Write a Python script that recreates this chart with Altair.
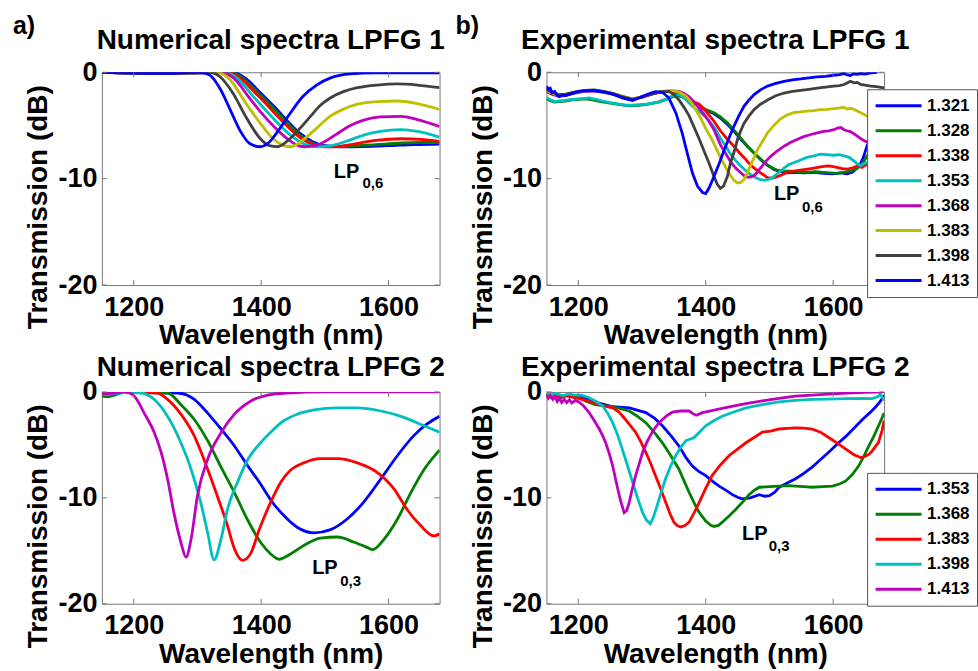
import altair as alt
import pandas as pd

FONT = "Liberation Sans"
FRAME = "#777777"

# Shared axis ranges and tick positions
X_DOMAIN = [1150, 1680]
Y_DOMAIN = [-20, 0]
X_TICKS = [1200, 1400, 1600]
Y_TICKS = [0, -10, -20]

# Surrounding refractive indices and their line colours
RI_LPFG1 = ["1.321", "1.328", "1.338", "1.353", "1.368", "1.383", "1.398", "1.413"]
COLORS_LPFG1 = ["#0000ff", "#007f00", "#ff0000", "#00bfbf", "#bf00bf", "#bfbf00", "#404040", "#0000ff"]
RI_LPFG2 = ["1.353", "1.368", "1.383", "1.398", "1.413"]
COLORS_LPFG2 = ["#0000ff", "#007f00", "#ff0000", "#00bfbf", "#bf00bf"]

# ---- Numerical spectra, LPFG 1 : (wavelength nm, transmission dB) ----
num1_1321 = [(1150, 0), (1250, -0.1), (1356, 0), (1376, -0.6), (1400, -2.0), (1420, -3.2), (1440, -4.5),
             (1460, -5.7), (1480, -6.5), (1500, -6.9), (1525, -7.0), (1560, -6.98), (1600, -6.9),
             (1640, -6.8), (1680, -6.75)]
num1_1328 = [(1150, 0), (1250, -0.1), (1352, 0), (1372, -0.6), (1395, -1.9), (1415, -3.1), (1435, -4.4),
             (1455, -5.6), (1475, -6.5), (1495, -6.9), (1517, -7.0), (1540, -6.95), (1580, -6.8),
             (1620, -6.65), (1650, -6.6), (1680, -6.6)]
num1_1338 = [(1150, 0), (1250, -0.1), (1348, 0), (1368, -0.6), (1390, -1.9), (1405, -2.8), (1425, -4.1),
             (1445, -5.3), (1465, -6.3), (1482, -6.8), (1498, -7.0), (1512, -7.0), (1530, -6.9),
             (1550, -6.7), (1580, -6.4), (1620, -6.25), (1650, -6.3), (1680, -6.5)]
num1_1353 = [(1150, 0), (1250, -0.1), (1343, 0), (1363, -0.6), (1385, -2.1), (1400, -3.1), (1420, -4.4),
             (1440, -5.6), (1460, -6.5), (1475, -6.9), (1488, -7.0), (1505, -6.95), (1520, -6.75),
             (1540, -6.35), (1561, -5.9), (1587, -5.55), (1619, -5.4), (1645, -5.55), (1680, -6.1)]
num1_1368 = [(1150, 0), (1250, -0.1), (1338, 0), (1358, -0.6), (1380, -2.3), (1400, -3.8), (1420, -5.1),
             (1440, -6.2), (1455, -6.8), (1468, -7.0), (1485, -6.9), (1500, -6.5), (1520, -5.75),
             (1540, -5.0), (1561, -4.5), (1587, -4.2), (1619, -4.15), (1645, -4.45), (1680, -5.1)]
num1_1383 = [(1150, 0), (1250, -0.1), (1330, 0), (1348, -0.5), (1378, -3.1), (1400, -4.9), (1418, -6.2),
             (1432, -6.8), (1446, -7.0), (1467, -6.3), (1488, -5.2), (1509, -4.1), (1530, -3.45),
             (1551, -3.0), (1582, -2.75), (1614, -2.7), (1645, -2.95), (1680, -3.5)]
num1_1398 = [(1150, 0), (1250, -0.1), (1320, 0), (1335, -0.4), (1355, -1.9), (1378, -4.4), (1398, -6.2),
             (1413, -6.9), (1426, -7.0), (1446, -6.2), (1462, -5.2), (1478, -4.1), (1493, -3.1),
             (1509, -2.4), (1530, -1.8), (1551, -1.45), (1582, -1.2), (1614, -1.1), (1645, -1.2),
             (1680, -1.45)]
num1_1413 = [(1150, 0), (1250, -0.1), (1305, 0), (1320, -0.3), (1336, -1.6), (1352, -3.6), (1368, -5.6),
             (1382, -6.7), (1398, -7.0), (1412, -6.6), (1428, -5.4), (1445, -3.9), (1465, -2.3),
             (1487, -1.2), (1510, -0.5), (1540, -0.15), (1580, -0.05), (1680, -0.05)]

# ---- Experimental spectra, LPFG 1 ----
exp1_1321 = [(1150, -1.5), (1160, -1.9), (1170, -2.2), (1180, -2.15), (1195, -1.9), (1210, -1.75),
             (1225, -1.72), (1240, -1.85), (1255, -2.05), (1270, -2.35), (1285, -2.6), (1300, -2.3),
             (1315, -2.0), (1330, -1.85), (1345, -1.8), (1358, -2.0), (1370, -2.4), (1382, -2.9),
             (1392, -3.3), (1402, -3.6), (1413, -3.9), (1423, -4.3), (1434, -4.9), (1445, -5.6),
             (1455, -6.3), (1466, -7.0), (1476, -7.6), (1486, -8.2), (1497, -8.75), (1508, -9.15),
             (1518, -9.35), (1528, -9.45), (1540, -9.4), (1555, -9.45), (1570, -9.4), (1585, -9.5),
             (1600, -9.55), (1612, -9.45), (1622, -9.55), (1630, -9.4), (1638, -9.0), (1643, -8.6),
             (1648, -7.9), (1653, -6.95), (1660, -6.0)]
exp1_1328 = [(1150, -2.5), (1157, -2.7), (1163, -2.8), (1170, -2.75), (1180, -2.7), (1190, -2.6),
             (1201, -2.55), (1212, -2.5), (1222, -2.6), (1235, -2.75), (1250, -2.9), (1265, -3.05),
             (1280, -3.15), (1295, -3.1), (1310, -3.0), (1325, -2.8), (1340, -2.5), (1352, -2.2),
             (1362, -2.3), (1374, -2.6), (1384, -2.95), (1392, -3.3), (1402, -3.55), (1413, -3.8),
             (1423, -4.2), (1434, -4.75), (1445, -5.5), (1455, -6.2), (1465, -6.9), (1476, -7.6),
             (1486, -8.15), (1497, -8.7), (1505, -9.0), (1512, -9.2), (1522, -9.28), (1533, -9.3),
             (1546, -9.35), (1559, -9.4), (1572, -9.35), (1585, -9.4), (1596, -9.45), (1606, -9.5),
             (1616, -9.4), (1627, -9.3), (1635, -9.1), (1643, -8.8), (1648, -8.4), (1653, -7.9),
             (1660, -7.2)]
exp1_1338 = [(1150, -1.7), (1160, -2.0), (1170, -2.15), (1180, -2.1), (1195, -1.9), (1210, -1.75),
             (1225, -1.7), (1240, -1.85), (1255, -2.0), (1270, -2.3), (1285, -2.55), (1300, -2.3),
             (1315, -2.05), (1330, -1.85), (1345, -1.8), (1358, -1.95), (1366, -2.2), (1374, -2.55),
             (1382, -2.8), (1390, -3.0), (1398, -3.5), (1405, -4.0), (1413, -4.6), (1423, -5.5),
             (1434, -6.3), (1445, -7.0), (1455, -7.7), (1463, -8.2), (1470, -8.7), (1478, -9.1),
             (1486, -9.45), (1492, -9.7), (1497, -9.9), (1504, -9.95), (1510, -9.86), (1519, -9.65),
             (1528, -9.4), (1538, -9.3), (1549, -9.2), (1560, -9.1), (1570, -9.0), (1580, -8.9),
             (1591, -8.8), (1598, -8.85), (1606, -8.95), (1614, -9.05), (1622, -9.1), (1630, -9.0),
             (1638, -8.8), (1645, -8.95), (1651, -8.7), (1660, -8.8)]
exp1_1353 = [(1150, -2.4), (1157, -2.6), (1163, -2.75), (1170, -2.7), (1180, -2.65), (1190, -2.55),
             (1201, -2.5), (1210, -2.45), (1217, -2.4), (1228, -2.55), (1238, -2.7), (1250, -2.85),
             (1264, -3.0), (1275, -3.1), (1285, -3.1), (1296, -3.05), (1306, -3.0), (1317, -2.9),
             (1327, -2.8), (1337, -2.55), (1348, -2.2), (1358, -2.1), (1366, -2.4), (1374, -2.9),
             (1383, -3.4), (1392, -3.8), (1400, -4.2), (1408, -4.75), (1416, -5.4), (1423, -6.2),
             (1431, -6.9), (1439, -7.7), (1447, -8.3), (1455, -8.8), (1462, -9.2), (1470, -9.6),
             (1478, -9.9), (1486, -10.1), (1492, -10.15), (1497, -10.1), (1502, -10.0), (1507, -9.8),
             (1515, -9.4), (1523, -9.0), (1530, -8.7), (1538, -8.5), (1549, -8.25), (1559, -8.0),
             (1570, -7.85), (1580, -7.7), (1590, -7.75), (1601, -7.8), (1610, -7.75), (1617, -7.85),
             (1625, -8.0), (1633, -8.35), (1638, -8.6), (1643, -8.8), (1648, -8.6), (1653, -8.5),
             (1660, -8.6)]
exp1_1368 = [(1150, -1.8), (1160, -2.1), (1170, -2.25), (1180, -2.2), (1195, -1.95), (1210, -1.8),
             (1225, -1.75), (1240, -1.9), (1255, -2.05), (1270, -2.3), (1285, -2.5), (1300, -2.35),
             (1315, -2.05), (1330, -1.85), (1345, -1.75), (1358, -1.8), (1366, -2.0), (1374, -2.3),
             (1382, -2.8), (1390, -3.4), (1398, -4.0), (1405, -4.6), (1413, -5.4), (1423, -6.8),
             (1431, -7.6), (1439, -8.4), (1447, -9.0), (1455, -9.45), (1460, -9.7), (1465, -9.85),
             (1470, -9.85), (1476, -9.7), (1481, -9.4), (1486, -9.0), (1494, -8.4), (1502, -7.9),
             (1512, -7.4), (1523, -6.95), (1533, -6.6), (1544, -6.3), (1554, -6.05), (1565, -5.85),
             (1575, -5.7), (1585, -5.55), (1593, -5.5), (1601, -5.4), (1607, -5.25), (1612, -5.2),
             (1617, -5.4), (1622, -5.5), (1628, -5.6), (1638, -6.0), (1645, -6.3), (1651, -6.5),
             (1660, -6.6)]
exp1_1383 = [(1150, -1.7), (1160, -2.0), (1170, -2.2), (1180, -2.1), (1195, -1.9), (1210, -1.75),
             (1225, -1.7), (1240, -1.85), (1255, -2.0), (1270, -2.3), (1285, -2.5), (1300, -2.3),
             (1315, -2.0), (1330, -1.8), (1345, -1.7), (1358, -1.85), (1369, -2.25), (1377, -2.8),
             (1384, -3.5), (1392, -4.3), (1400, -5.3), (1408, -6.1), (1416, -7.1), (1423, -8.0),
             (1431, -8.9), (1439, -9.7), (1445, -10.2), (1450, -10.4), (1455, -10.35), (1460, -10.1),
             (1465, -9.5), (1470, -8.8), (1476, -8.0), (1481, -7.3), (1489, -6.5), (1497, -5.7),
             (1507, -5.0), (1517, -4.4), (1528, -4.0), (1538, -3.8), (1549, -3.72), (1559, -3.66),
             (1570, -3.6), (1580, -3.52), (1591, -3.48), (1601, -3.42), (1610, -3.35), (1617, -3.28),
             (1622, -3.45), (1628, -3.4), (1633, -3.5), (1640, -3.7), (1648, -3.95), (1653, -4.1),
             (1660, -4.2)]
exp1_1398 = [(1150, -1.6), (1160, -1.9), (1170, -2.1), (1180, -2.05), (1195, -1.85), (1210, -1.7),
             (1225, -1.65), (1240, -1.8), (1255, -2.0), (1270, -2.3), (1285, -2.55), (1300, -2.35),
             (1315, -2.05), (1328, -1.85), (1342, -1.8), (1350, -2.1), (1358, -2.6), (1366, -3.3),
             (1374, -4.1), (1382, -5.2), (1390, -6.3), (1398, -7.5), (1405, -8.5), (1413, -9.8),
             (1418, -10.5), (1423, -10.9), (1428, -10.7), (1434, -9.8), (1439, -8.5), (1445, -7.4),
             (1450, -6.3), (1455, -5.5), (1460, -4.8), (1468, -4.1), (1476, -3.5), (1486, -3.0),
             (1497, -2.6), (1510, -2.2), (1523, -1.95), (1536, -1.8), (1549, -1.7), (1562, -1.6),
             (1575, -1.5), (1588, -1.4), (1601, -1.3), (1610, -1.25), (1617, -1.15), (1622, -1.0),
             (1627, -0.85), (1633, -1.0), (1638, -0.95), (1643, -1.15), (1650, -1.2), (1659, -1.3),
             (1668, -1.35), (1677, -1.45), (1680, -1.45)]
exp1_1413 = [(1150, -1.3), (1153, -1.6), (1156, -1.5), (1159, -1.95), (1163, -1.8), (1167, -2.2),
             (1170, -2.3), (1175, -2.15), (1180, -2.2), (1190, -2.0), (1201, -1.8), (1212, -1.75),
             (1222, -1.7), (1232, -1.8), (1243, -1.9), (1256, -2.1), (1269, -2.4), (1285, -2.65),
             (1301, -2.25), (1312, -2.0), (1321, -1.82), (1332, -1.88), (1342, -2.4), (1353, -3.8),
             (1363, -5.7), (1371, -7.6), (1379, -9.45), (1387, -10.7), (1395, -11.3), (1400, -11.4),
             (1405, -10.9), (1413, -9.8), (1421, -8.6), (1429, -7.3), (1437, -6.1), (1444, -5.1),
             (1452, -4.1), (1460, -3.2), (1468, -2.6), (1476, -2.1), (1486, -1.65), (1497, -1.3),
             (1510, -1.05), (1523, -0.85), (1536, -0.72), (1549, -0.63), (1562, -0.52), (1575, -0.44),
             (1588, -0.38), (1601, -0.28), (1610, -0.22), (1617, -0.12), (1622, -0.25), (1627, -0.3),
             (1632, -0.15), (1638, -0.2), (1643, -0.12), (1650, -0.18), (1657, -0.08), (1664, -0.03),
             (1669, 0)]

# ---- Numerical spectra, LPFG 2 ----
num2_1353 = [(1150, -0.1), (1200, -0.05), (1269, -0.1), (1295, -0.7), (1316, -2.0), (1337, -3.5),
             (1358, -5.1), (1378, -6.9), (1399, -8.7), (1415, -10.2), (1436, -11.7), (1457, -12.8),
             (1483, -13.3), (1509, -13.0), (1535, -12.0), (1561, -10.4), (1588, -8.2), (1614, -6.0),
             (1640, -4.1), (1661, -3.0), (1680, -2.3)]
num2_1368 = [(1150, -0.4), (1160, -0.45), (1170, -0.3), (1185, -0.05), (1253, -0.1), (1274, -1.2),
             (1295, -2.6), (1316, -4.6), (1337, -7.1), (1358, -9.5), (1378, -12.0), (1399, -14.2),
             (1415, -15.3), (1428, -15.8), (1446, -15.3), (1467, -14.5), (1493, -13.8), (1520, -13.7),
             (1546, -14.2), (1567, -14.7), (1575, -14.9), (1593, -13.9), (1614, -12.0), (1635, -9.5),
             (1656, -7.3), (1680, -5.5)]
num2_1383 = [(1150, -0.1), (1200, -0.05), (1237, -0.1), (1253, -0.7), (1274, -2.1), (1295, -4.15),
             (1316, -7.3), (1331, -9.8), (1347, -12.6), (1358, -14.8), (1371, -15.9), (1384, -15.2),
             (1397, -13.0), (1415, -10.4), (1431, -8.5), (1446, -7.4), (1467, -6.7), (1493, -6.3),
             (1520, -6.3), (1551, -6.7), (1582, -7.6), (1609, -9.2), (1629, -11.1), (1650, -12.6),
             (1671, -13.6), (1680, -13.4)]
num2_1398 = [(1150, -0.2), (1170, -0.15), (1190, -0.05), (1211, -0.1), (1232, -0.69), (1253, -2.3),
             (1274, -4.8), (1290, -7.3), (1305, -10.4), (1316, -13.3), (1326, -15.85), (1337, -13.9),
             (1347, -11.1), (1363, -8.5), (1378, -6.5), (1399, -4.8), (1415, -3.8), (1436, -2.7),
             (1457, -2.1), (1483, -1.7), (1520, -1.5), (1551, -1.5), (1588, -1.8), (1624, -2.4),
             (1656, -3.2), (1680, -3.8)]
num2_1413 = [(1150, -0.15), (1170, -0.1), (1185, 0), (1195, -0.15), (1201, -0.4), (1216, -1.95),
             (1232, -3.8), (1243, -5.7), (1253, -8.2), (1263, -11.4), (1274, -14.2), (1282, -15.6),
             (1290, -13.9), (1300, -9.8), (1316, -6.35), (1337, -3.85), (1358, -2.1), (1384, -0.85),
             (1410, -0.3), (1440, -0.1), (1500, 0), (1680, 0)]

# ---- Experimental spectra, LPFG 2 ----
exp2_1353 = [(1150, -0.2), (1160, -0.35), (1175, -0.4), (1188, -0.3), (1200, -0.4), (1215, -0.7),
             (1230, -1.0), (1254, -1.4), (1280, -1.5), (1306, -1.95), (1320, -2.5), (1332, -3.2),
             (1345, -4.1), (1358, -5.1), (1369, -6.2), (1379, -7.0), (1389, -7.5), (1400, -7.9),
             (1410, -8.4), (1421, -8.9), (1432, -9.3), (1442, -9.7), (1450, -9.95), (1457, -10.1),
             (1470, -10.0), (1484, -9.7), (1492, -9.85), (1500, -9.8), (1508, -9.5), (1515, -9.0),
             (1528, -8.6), (1541, -8.2), (1554, -7.7), (1567, -7.1), (1580, -6.4), (1593, -5.7),
             (1607, -4.9), (1620, -4.2), (1633, -3.4), (1646, -2.6), (1657, -2.0), (1667, -1.4),
             (1674, -0.9), (1680, -0.3)]
exp2_1368 = [(1150, -0.3), (1160, -0.5), (1170, -0.4), (1185, -0.35), (1200, -0.5), (1213, -0.9),
             (1227, -1.2), (1254, -1.4), (1280, -1.8), (1293, -2.3), (1306, -2.9), (1319, -3.8),
             (1332, -4.8), (1345, -6.0), (1358, -7.3), (1366, -8.4), (1374, -9.5), (1382, -10.5),
             (1390, -11.4), (1400, -12.2), (1408, -12.6), (1413, -12.7), (1420, -12.6), (1426, -12.3),
             (1437, -11.7), (1447, -11.1), (1458, -10.4), (1468, -9.7), (1476, -9.3), (1484, -9.0),
             (1500, -8.95), (1515, -8.9), (1528, -8.85), (1541, -8.9), (1554, -8.95), (1567, -9.0),
             (1583, -8.95), (1599, -8.9), (1610, -8.7), (1620, -8.4), (1630, -7.8), (1640, -7.0),
             (1648, -6.1), (1656, -5.1), (1663, -4.3), (1669, -3.5), (1675, -2.7), (1680, -2.0)]
exp2_1383 = [(1150, -0.3), (1157, -0.5), (1165, -0.4), (1173, -0.55), (1180, -0.35), (1190, -0.5),
             (1200, -0.6), (1212, -0.8), (1222, -1.0), (1238, -1.3), (1254, -1.5), (1264, -1.9),
             (1274, -2.6), (1282, -3.2), (1290, -3.8), (1298, -4.7), (1306, -5.7), (1314, -6.8),
             (1321, -7.9), (1329, -9.1), (1337, -10.4), (1344, -11.5), (1350, -12.3), (1356, -12.65),
             (1361, -12.75), (1368, -12.6), (1374, -12.3), (1382, -11.4), (1390, -10.4), (1400, -9.1),
             (1410, -7.9), (1423, -6.9), (1437, -6.0), (1450, -5.4), (1463, -4.8), (1476, -4.3),
             (1489, -3.8), (1502, -3.7), (1515, -3.5), (1528, -3.45), (1541, -3.4), (1554, -3.42),
             (1567, -3.5), (1580, -3.8), (1593, -4.3), (1607, -4.85), (1620, -5.4), (1632, -5.9),
             (1643, -6.2), (1650, -6.1), (1656, -5.9), (1661, -5.6), (1667, -5.1), (1671, -4.8),
             (1674, -4.2), (1677, -3.6), (1680, -2.7)]
exp2_1398 = [(1150, -0.1), (1157, -0.3), (1165, -0.15), (1175, -0.35), (1185, -0.2), (1195, -0.3),
             (1205, -0.3), (1217, -0.55), (1228, -0.9), (1238, -1.3), (1246, -2.0), (1254, -2.9),
             (1262, -4.1), (1269, -5.4), (1277, -6.9), (1285, -8.5), (1293, -10.0), (1301, -11.4),
             (1307, -12.1), (1313, -12.45), (1318, -11.8), (1324, -10.7), (1330, -9.5), (1337, -8.2),
             (1345, -7.0), (1353, -6.0), (1361, -5.2), (1369, -4.6), (1376, -4.45), (1382, -4.3),
             (1390, -3.8), (1400, -3.2), (1413, -2.7), (1426, -2.3), (1444, -1.9), (1463, -1.5),
             (1489, -1.2), (1515, -0.94), (1541, -0.8), (1567, -0.7), (1593, -0.68), (1620, -0.63),
             (1645, -0.6), (1661, -0.63), (1670, -0.45), (1674, -0.2), (1677, -0.5), (1680, -0.8)]
exp2_1413 = [(1150, -0.3), (1153, -0.6), (1156, -0.35), (1160, -0.7), (1163, -0.45), (1167, -0.9),
             (1170, -0.6), (1174, -1.0), (1178, -0.7), (1182, -1.0), (1186, -0.75), (1190, -1.05),
             (1195, -0.8), (1201, -0.95), (1208, -1.3), (1217, -1.95), (1225, -2.7), (1233, -3.5),
             (1238, -4.1), (1243, -4.8), (1249, -5.9), (1254, -7.0), (1261, -8.9), (1266, -10.2),
             (1272, -11.4), (1276, -11.2), (1280, -10.4), (1285, -9.1), (1290, -7.9), (1296, -6.7),
             (1301, -5.7), (1308, -4.7), (1316, -3.8), (1324, -3.1), (1332, -2.6), (1340, -2.2),
             (1348, -1.9), (1360, -1.8), (1374, -1.8), (1380, -2.05), (1385, -2.2), (1395, -1.95),
             (1415, -1.7), (1437, -1.4), (1463, -1.1), (1489, -0.85), (1515, -0.6), (1541, -0.4),
             (1567, -0.3), (1593, -0.2), (1620, -0.12), (1651, -0.05), (1680, 0)]

W = 338
H_TOP, H_BOT = 213, 212

# Curve-label anchors in data coordinates: (wavelength, dB, text)
LP_LPFG1_NUM = [(1514, -9.9, "LP"), (1559, -10.9, "0,6")]
LP_LPFG1_EXP = [(1507, -12.05, "LP"), (1551, -13.1, "0,6")]
LP_LPFG2_NUM = [(1480, -17.2, "LP"), (1524, -18.3, "0,3")]
LP_LPFG2_EXP = [(1457, -14.0, "LP"), (1499, -15.0, "0,3")]


def spectra_frame(names, series):
    rows = []
    for name, pts in zip(names, series):
        for wl, db in pts:
            rows.append({"n": name, "wl": wl, "db": db})
    return pd.DataFrame(rows)


X_SCALE = alt.Scale(domain=X_DOMAIN, nice=False, zero=False)
Y_SCALE = alt.Scale(domain=Y_DOMAIN, nice=False, zero=False)


def panel(df, names, colors, title, title_gap, h, interp, letter, lp, legend_y=None):
    x_axis = alt.Axis(values=X_TICKS, title="Wavelength (nm)", grid=False, domain=False, ticks=False,
                      tickSize=0, labelPadding=30, labelBaseline="alphabetic", labelFlush=False,
                      labelOverlap=False, labelFont=FONT, labelFontSize=27, labelFontWeight="bold",
                      labelColor="black", labelExpr="datum.value + ''", titleFont=FONT, titleFontSize=28,
                      titleFontWeight="bold", titleColor="black", titleBaseline="alphabetic",
                      titleAlign="center", titleX=W / 2, titleY=59)
    y_axis = alt.Axis(values=Y_TICKS, title="Transmission (dB)", grid=False, domain=False, ticks=False,
                      tickSize=0, labelPadding=5, labelBaseline="middle", labelFlush=False,
                      labelOverlap=False, labelFont=FONT, labelFontSize=27, labelFontWeight="bold",
                      labelColor="black", labelExpr="datum.value + ''", titleFont=FONT, titleFontSize=28,
                      titleFontWeight="bold", titleColor="black", titleBaseline="alphabetic",
                      titleAlign="center", titleAngle=270, titleX=-55, titleY=h / 2 + 28)
    x_enc = alt.X("wl:Q", scale=X_SCALE, axis=x_axis)
    y_enc = alt.Y("db:Q", scale=Y_SCALE, axis=y_axis)

    if legend_y is None:
        legend = None
    else:
        legend = alt.Legend(orient="none", legendX=321, legendY=legend_y, title=None,
                            symbolType="stroke", symbolSize=2116, symbolStrokeWidth=3,
                            clipHeight=19, rowPadding=6, padding=7, labelFont=FONT,
                            labelFontSize=17, labelFontWeight="bold", labelColor="black",
                            labelOffset=4, fillColor="white", strokeColor="#555555")

    lines = alt.Chart(df).mark_line(strokeWidth=2.8, interpolate=interp, clip=True).encode(
        x=x_enc, y=y_enc,
        color=alt.Color("n:N", scale=alt.Scale(domain=names, range=colors), legend=legend,
                        sort=names),
    )

    # inward tick marks on all four sides of the box
    xt = pd.DataFrame({"wl": X_TICKS})
    yt = pd.DataFrame({"db": Y_TICKS})
    rule = dict(color=FRAME, strokeWidth=1)
    tick_b = alt.Chart(xt).mark_rule(**rule).encode(x=x_enc, y=alt.value(h), y2=alt.value(h - 5))
    tick_t = alt.Chart(xt).mark_rule(**rule).encode(x=x_enc, y=alt.value(0), y2=alt.value(5))
    tick_l = alt.Chart(yt).mark_rule(**rule).encode(y=y_enc, x=alt.value(0), x2=alt.value(5))
    tick_r = alt.Chart(yt).mark_rule(**rule).encode(y=y_enc, x=alt.value(W - 5), x2=alt.value(W))

    # mode label with subscript
    lp_main = pd.DataFrame([{"wl": lp[0][0], "db": lp[0][1], "t": lp[0][2]}])
    lp_sub = pd.DataFrame([{"wl": lp[1][0], "db": lp[1][1], "t": lp[1][2]}])
    lp1 = alt.Chart(lp_main).mark_text(font=FONT, fontSize=20, fontWeight="bold", align="left",
                                       baseline="alphabetic", color="black").encode(
        x=x_enc, y=y_enc, text="t:N")
    lp2 = alt.Chart(lp_sub).mark_text(font=FONT, fontSize=15, fontWeight="bold", align="left",
                                      baseline="alphabetic", color="black").encode(
        x=x_enc, y=y_enc, text="t:N")

    # panel heading
    head = alt.Chart(pd.DataFrame({"t": [title]})).mark_text(
        font=FONT, fontSize=28, fontWeight="bold", align="center", baseline="alphabetic",
        color="black").encode(x=alt.value(W / 2), y=alt.value(-title_gap), text="t:N")

    layers = [lines, tick_b, tick_t, tick_l, tick_r, lp1, lp2, head]
    if letter is not None:
        lab = alt.Chart(pd.DataFrame({"t": [letter[0]]})).mark_text(
            font=FONT, fontSize=25, fontWeight="bold", align="left", baseline="alphabetic",
            color="black").encode(x=alt.value(letter[1]), y=alt.value(-38), text="t:N")
        layers.append(lab)

    return alt.layer(*layers).properties(width=W, height=h)


df_num1 = spectra_frame(RI_LPFG1, [num1_1321, num1_1328, num1_1338, num1_1353, num1_1368,
                                   num1_1383, num1_1398, num1_1413])
df_exp1 = spectra_frame(RI_LPFG1, [exp1_1321, exp1_1328, exp1_1338, exp1_1353, exp1_1368,
                                   exp1_1383, exp1_1398, exp1_1413])
df_num2 = spectra_frame(RI_LPFG2, [num2_1353, num2_1368, num2_1383, num2_1398, num2_1413])
df_exp2 = spectra_frame(RI_LPFG2, [exp2_1353, exp2_1368, exp2_1383, exp2_1398, exp2_1413])

pa = panel(df_num1, RI_LPFG1, COLORS_LPFG1, "Numerical spectra LPFG 1", 23, H_TOP, "monotone",
           ("a)", -89), LP_LPFG1_NUM)
pb = panel(df_exp1, RI_LPFG1, COLORS_LPFG1, "Experimental spectra LPFG 1", 23, H_TOP, "linear",
           ("b)", -91), LP_LPFG1_EXP, legend_y=17)
pc = panel(df_num2, RI_LPFG2, COLORS_LPFG2, "Numerical spectra LPFG 2", 16, H_BOT, "monotone",
           None, LP_LPFG2_NUM)
pd_ = panel(df_exp2, RI_LPFG2, COLORS_LPFG2, "Experimental spectra LPFG 2", 16, H_BOT, "linear",
            None, LP_LPFG2_EXP, legend_y=81)

chart = (
    alt.concat(pa, pb, pc, pd_, columns=2, spacing=107, bounds="flush")
    .resolve_scale(color="independent")
    .configure_view(stroke=FRAME, strokeWidth=1)
    .properties(padding={"left": 12, "top": 13, "right": 0, "bottom": 0},
                autosize=alt.AutoSizeParams(type="pad"), background="white")
)

chart.save("out.html", embed_options={"renderer": "svg", "actions": False})
